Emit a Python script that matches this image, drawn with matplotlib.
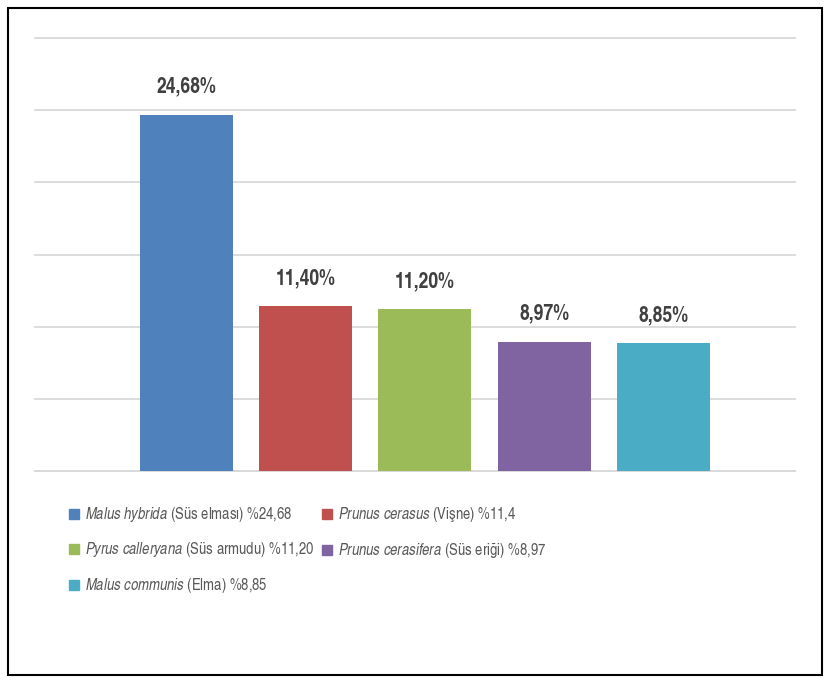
import matplotlib.pyplot as plt
from matplotlib.patches import Rectangle, Patch

species = ["Malus hybrida", "Prunus cerasus", "Pyrus calleryana",
           "Prunus cerasifera", "Malus communis"]
common = ["Süs elması", "Vişne", "Süs armudu", "Süs eriği", "Elma"]
legend_vals = ["%24,68", "%11,4", "%11,20", "%8,97", "%8,85"]
values = [24.68, 11.40, 11.20, 8.97, 8.85]
bar_labels = ["24,68%", "11,40%", "11,20%", "8,97%", "8,85%"]
colors = ["#4F81BD", "#C0504D", "#9BBB59", "#8064A2", "#4BACC6"]

plt.rcParams['font.family'] = ['TeX Gyre Heros Cn', 'DejaVu Sans']
plt.rcParams['mathtext.fontset'] = 'custom'
plt.rcParams['mathtext.it'] = 'TeX Gyre Heros Cn:italic'
plt.rcParams['mathtext.rm'] = 'TeX Gyre Heros Cn'

fig = plt.figure(figsize=(8.27, 6.84), dpi=100)
ax = fig.add_axes([0.0423, 0.3114, 0.919, 0.6330])

x = list(range(len(values)))
bars = ax.bar(x, values, width=0.78, color=colors, zorder=3)
for b, lab in zip(bars, bar_labels):
    ax.annotate(lab, (b.get_x() + b.get_width() / 2, b.get_height()),
                xytext=(0, 16), textcoords="offset points", ha="center",
                va="baseline", fontsize=15.5, fontweight="bold", color="#404040")

ax.set_ylim(0, 30)
ax.set_xlim(-1.27, 5.105)
ax.set_yticks([0, 5, 10, 15, 20, 25, 30])
ax.set_xticks([])
ax.yaxis.grid(True, color="#D9D9D9", linewidth=1.3, zorder=0)
for gl in ax.get_ygridlines():
    gl.set_clip_on(False)
ax.tick_params(left=False, labelleft=False)
for s in ["top", "right", "left"]:
    ax.spines[s].set_visible(False)
ax.spines["bottom"].set_color("#D9D9D9")
ax.spines["bottom"].set_linewidth(1.3)

labels = []
for sp, cm, v in zip(species, common, legend_vals):
    it = sp.replace(" ", r"\ ")
    labels.append(r"$\mathit{" + it + "}$ (" + cm + ") " + v)
handles = [Patch(color=c) for c in colors]
order = [0, 2, 4, 1, 3]
leg = fig.legend([handles[i] for i in order], [labels[i] for i in order],
                 ncol=2, loc="upper left", bbox_to_anchor=(0.066, 0.282),
                 frameon=False, fontsize=11.5, handlelength=0.6, handleheight=0.6,
                 handletextpad=0.4, columnspacing=0.5, labelspacing=1.0,
                 labelcolor="#595959")

fig.patches.append(Rectangle((0.0097, 0.0132), 0.9843, 0.975,
                             transform=fig.transFigure, fill=False,
                             edgecolor="black", linewidth=1.5))

fig.savefig("out.png", dpi=100)
